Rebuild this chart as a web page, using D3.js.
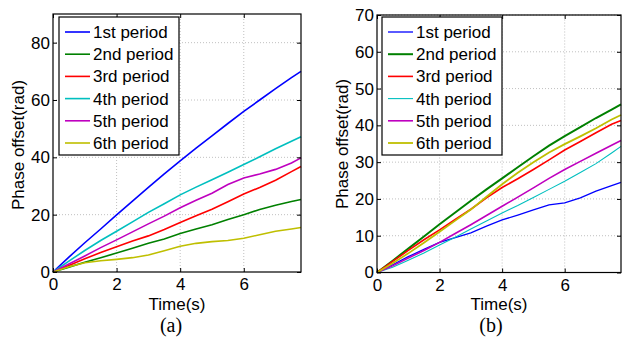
<!DOCTYPE html>
<html><head><meta charset="utf-8">
<script src="https://cdn.jsdelivr.net/npm/d3@7"></script>
<style>body{margin:0;background:#fff}svg{display:block}</style>
</head><body>
<svg id="c" width="622" height="337"></svg>
<script>
const times = [0,0.5,1,1.5,2,2.5,3,3.5,4,4.5,5,5.5,6,6.5,7,7.5,7.8];
const seriesNames = ["1st period","2nd period","3rd period","4th period","5th period","6th period"];
const colors = ["#0000ff","#008000","#ff0000","#00bfbf","#bf00bf","#bfbf00"];
// panel (a)
const a1 = [0,5.2,10.2,15,19.9,24.7,29.5,34.2,38.8,43.2,47.5,51.8,56,60,64,67.8,70];
const a2 = [0,1.7,3.4,5,6.6,8.3,10,11.5,13.4,15,16.5,18.3,20,21.8,23.3,24.6,25.3];
const a3 = [0,2.3,4.6,6.8,8.8,10.8,12.6,14.8,17.3,19.6,21.9,24.5,27.2,29.5,32,35,36.8];
const a4 = [0,3.8,7.5,11,14.2,17.5,20.8,23.8,26.9,29.6,32.2,34.8,37.5,40.2,43,45.6,47.2];
const a5 = [0,2.8,5.6,8.5,11.2,14,16.8,19.5,22.4,25,27.5,30.5,32.8,34.2,35.8,38,39.8];
const a6 = [0,1.8,3.2,3.9,4.4,5,5.9,7.4,9,10,10.6,11,11.8,13,14.2,15,15.5];
// panel (b)
const b1 = [0,2.1,4.3,6.3,8.2,9.5,10.8,12.6,14.3,15.6,17,18.4,18.9,20.3,22.1,23.6,24.5];
const b2 = [0,3.2,6.5,9.8,13.1,16.3,19.5,22.6,25.6,28.6,31.6,34.5,37.1,39.5,42,44.3,45.7];
const b3 = [0,3,6,8.9,11.6,14.4,17.2,20.3,23.1,25.5,28,30.6,33.3,35.6,38,40.3,41.3];
const b4 = [0,1.4,3.3,5.3,7.5,9.6,11.8,14,16.2,18.2,20.4,22.6,24.8,27.2,29.6,32.5,34.3];
const b5 = [0,1.8,3.9,6,8.2,10.6,13,15.5,18,20.5,23,25.6,28,30.2,32.4,34.6,35.9];
const b6 = [0,2.5,5.2,8.1,11.1,14.1,17.1,20.6,24,27.1,30,32.6,34.9,37,39.2,41.6,42.8];
const xTicks = [0,2,4,6];
const yTicksA = [0,20,40,60,80];
const yTicksB = [0,10,20,30,40,50,60,70];
const xLabel = "Time(s)";
const yLabel = "Phase offset(rad)";

const svg = d3.select("#c");
const font = "Liberation Sans, Arial, sans-serif";

function panel(o){
  const g = svg.append("g");
  const x = d3.scaleLinear().domain([0,7.8]).range([o.x0,o.x1]);
  const y = d3.scaleLinear().domain([0,o.ymax]).range([o.y0,o.y1]);
  // grid
  g.selectAll(".gx").data(xTicks.slice(1)).join("line")
    .attr("x1",d=>x(d)).attr("x2",d=>x(d)).attr("y1",o.y0).attr("y2",o.y1)
    .attr("stroke","#b0b0b0").attr("stroke-width",0.8).attr("stroke-dasharray","1,2");
  g.selectAll(".gy").data(o.yticks.slice(1)).join("line")
    .attr("x1",o.x0).attr("x2",o.x1).attr("y1",d=>y(d)).attr("y2",d=>y(d))
    .attr("stroke","#b0b0b0").attr("stroke-width",0.8).attr("stroke-dasharray","1,2");
  // lines
  const line = d3.line().x((d,i)=>x(times[i])).y(d=>y(d));
  o.data.forEach((s,i)=>{
    g.append("path").datum(s).attr("d",line).attr("fill","none")
     .attr("stroke",colors[i]).attr("stroke-width",o.lw[i]);
  });
  // axes (ticks inward)
  const ax = [
    [d3.axisBottom(x).tickValues(xTicks).tickSize(-4).tickPadding(6), `translate(0,${o.y0})`],
    [d3.axisTop(x).tickValues(xTicks).tickSize(-4).tickFormat(""), `translate(0,${o.y1})`],
    [d3.axisLeft(y).tickValues(o.yticks).tickSize(-4).tickPadding(3), `translate(${o.x0},0)`],
    [d3.axisRight(y).tickValues(o.yticks).tickSize(-4).tickFormat(""), `translate(${o.x1},0)`]
  ];
  ax.forEach(([a,t])=>{
    const ag = g.append("g").attr("transform",t).call(a);
    ag.select(".domain").remove();
    ag.selectAll("line").attr("stroke","#000");
    ag.selectAll("text").attr("font-family",font).attr("font-size",17).attr("fill","#000");
  });
  g.append("rect").attr("x",o.x0).attr("y",o.y1).attr("width",o.x1-o.x0).attr("height",o.y0-o.y1)
    .attr("fill","none").attr("stroke","#000").attr("stroke-width",1.2);
  // labels
  g.append("text").attr("x",o.xlx).attr("y",310).attr("text-anchor","middle")
    .attr("font-family",font).attr("font-size",17).text(xLabel);
  g.append("text").attr("transform",`translate(${o.ylx},${o.yly}) rotate(-90)`).attr("text-anchor","middle")
    .attr("font-family",font).attr("font-size",17).text(yLabel);
  g.append("text").attr("x",o.capx).attr("y",332).attr("text-anchor","middle")
    .attr("font-family","Liberation Serif, Times New Roman, serif").attr("font-size",20).text(o.cap);
  // legend
  const lg = g.append("g");
  lg.append("rect").attr("x",o.lx).attr("y",17).attr("width",120).attr("height",138)
    .attr("fill","#fff").attr("stroke","#000").attr("stroke-width",1.2);
  seriesNames.forEach((n,i)=>{
    const yy = 32 + i*22.2;
    lg.append("line").attr("x1",o.lx+6).attr("x2",o.lx+31).attr("y1",yy).attr("y2",yy)
      .attr("stroke",colors[i]).attr("stroke-width",o.lw[i]);
    lg.append("text").attr("x",o.lx+34).attr("y",yy+6).attr("font-family",font)
      .attr("font-size",17).text(n);
  });
}

panel({x0:53,x1:301,y0:272,y1:14,ymax:90,yticks:yTicksA,data:[a1,a2,a3,a4,a5,a6],
  lw:[1.6,1.6,1.6,1.6,1.6,1.6],xlx:177,ylx:24,yly:145,capx:171,cap:"(a)",lx:59});
panel({x0:377,x1:621,y0:272.5,y1:15,ymax:70,yticks:yTicksB,data:[b1,b2,b3,b4,b5,b6],
  lw:[1.3,2,1.6,1.1,1.6,1.8],xlx:499,ylx:348,yly:144,capx:491,cap:"(b)",lx:382});
</script>
</body></html>
